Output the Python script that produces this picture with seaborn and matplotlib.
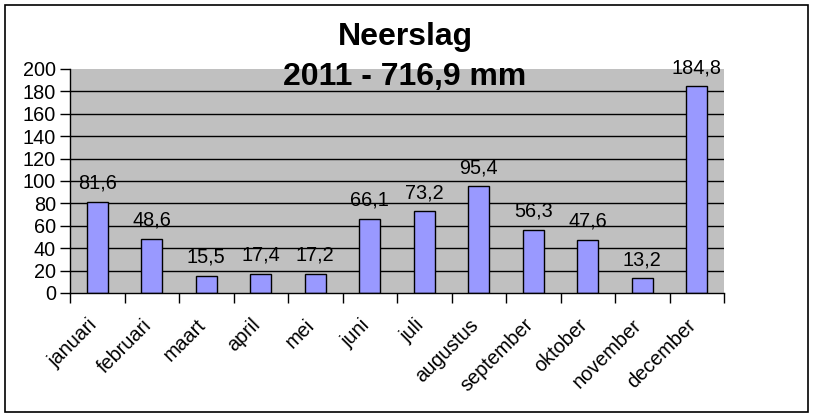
import matplotlib
matplotlib.use("Agg")
import matplotlib.pyplot as plt
import matplotlib.transforms as mtransforms
from matplotlib.patches import Rectangle
import seaborn as sns
import pandas as pd

months = ["januari", "februari", "maart", "april", "mei", "juni", "juli",
          "augustus", "september", "oktober", "november", "december"]
rain = [81.6, 48.6, 15.5, 17.4, 17.2, 66.1, 73.2, 95.4, 56.3, 47.6, 13.2, 184.8]
yticks = [0, 20, 40, 60, 80, 100, 120, 140, 160, 180, 200]
title1 = "Neerslag"
title2 = "2011 - 716,9 mm"

sns.set_theme(style="white")
plt.rcParams['font.family'] = ['Liberation Sans', 'DejaVu Sans']

df = pd.DataFrame({"maand": months, "neerslag": rain})
FS = 14.3

fig = plt.figure(figsize=(8.14, 4.17), dpi=100)
fig.patch.set_facecolor("white")
ax = fig.add_axes([70/814, 1-293/417, (724-70)/814, (293-69)/417])
ax.set_facecolor("#C0C0C0")

sns.barplot(data=df, x="maand", y="neerslag", color="#9999FF", saturation=1,
            width=0.39, edgecolor="black", linewidth=1, ax=ax, zorder=3)

ax.set_ylim(0, 200)
ax.set_xlim(-0.5, len(months) - 0.5)
ax.set_yticks(yticks)
ax.set_yticklabels([str(v) for v in yticks], fontsize=FS, color="black")
for v in yticks[1:-1]:
    ax.axhline(v, color="black", lw=1, zorder=1)

for s in ["top", "right"]:
    ax.spines[s].set_visible(False)
for s in ["left", "bottom"]:
    ax.spines[s].set_color("black")
    ax.spines[s].set_linewidth(1)
    ax.spines[s].set_zorder(4)

ax.tick_params(axis="y", which="major", direction="out", length=7, width=1,
               color="black", left=True, pad=3)
ax.set_xticks(range(len(months)))
ax.set_xticklabels(months, fontsize=FS, rotation=45, ha="right",
                   rotation_mode="anchor", color="black")
ax.tick_params(axis="x", which="major", length=0, pad=16)
ax.set_xticks([i - 0.5 for i in range(len(months) + 1)], minor=True)
ax.tick_params(axis="x", which="minor", direction="out", length=7, width=1,
               color="black", bottom=True)
offset = mtransforms.ScaledTranslation(-10/100, 0, fig.dpi_scale_trans)
for lab in ax.get_xticklabels():
    lab.set_transform(lab.get_transform() + offset)

ax.set_xlabel("")
ax.set_ylabel("")

for i, v in enumerate(rain):
    ax.annotate(f"{v:.1f}".replace(".", ","), xy=(i, v), xytext=(0, 13),
                textcoords="offset pixels", ha="center", va="baseline",
                fontsize=FS, color="black", zorder=5, annotation_clip=False)

fig.text(405/814, 1-45/417, title1, ha="center", va="baseline",
         fontsize=23, fontweight="bold", color="black")
fig.text(405/814, 1-85/417, title2, ha="center", va="baseline",
         fontsize=23, fontweight="bold", color="black", zorder=10)

fig.patches.append(Rectangle((5/814, 5/417), (808-5)/814, (412-5)/417,
                             transform=fig.transFigure, fill=False,
                             edgecolor="black", linewidth=1.2))

fig.savefig("out.png", dpi=100, facecolor="white")
